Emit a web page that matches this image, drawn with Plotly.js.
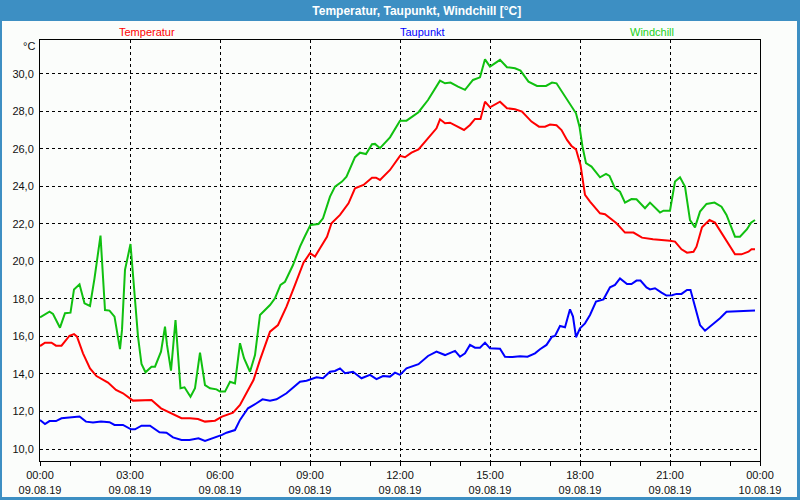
<!DOCTYPE html>
<html>
<head>
<meta charset="utf-8">
<script src="https://cdn.plot.ly/plotly-3.0.1.min.js"></script>
<style>html,body{margin:0;padding:0;background:#fbfdfb;}#chart{width:800px;height:500px;}</style>
</head>
<body>
<div id="chart"></div>
<script>
// ---- Data (hours since 09.08.19 00:00, values in °C) ----
const seriesNames = ['Temperatur', 'Taupunkt', 'Windchill'];

const tempHours = [0.00,0.16,0.38,0.54,0.71,0.99,1.13,1.24,1.43,1.66,1.88,2.27,2.54,2.77,3.10,3.38,3.71,4.04,4.38,4.71,5.00,5.27,5.50,5.83,6.06,6.44,6.67,6.89,7.11,7.33,7.67,7.94,8.22,8.50,8.78,9.00,9.17,9.33,9.56,9.72,10.00,10.28,10.50,10.78,11.06,11.20,11.33,11.67,12.00,12.17,12.39,12.61,12.94,13.22,13.33,13.50,13.67,13.89,14.13,14.33,14.50,14.69,14.83,15.00,15.33,15.56,15.83,16.06,16.39,16.64,16.83,17.00,17.22,17.39,17.56,17.72,17.87,18.02,18.17,18.33,18.67,18.83,19.22,19.50,19.78,20.06,20.44,21.00,21.17,21.39,21.56,21.78,21.89,22.06,22.31,22.50,22.78,23.00,23.17,23.39,23.61,23.72,23.83];
const tempValues = [15.49,15.67,15.67,15.51,15.51,16.04,16.13,15.99,15.10,14.30,13.89,13.54,13.15,12.97,12.58,12.61,12.61,12.17,11.90,11.64,11.64,11.60,11.46,11.51,11.73,11.94,12.35,12.97,13.68,14.75,16.26,16.61,17.59,18.75,19.94,20.44,20.26,20.70,21.32,22.04,22.48,23.10,23.90,24.08,24.47,24.47,24.35,24.88,25.63,25.56,25.80,25.98,26.57,27.10,27.58,27.37,27.40,27.23,27.01,27.28,27.60,27.60,28.52,28.22,28.52,28.17,28.12,27.99,27.46,27.19,27.19,27.30,27.26,27.01,26.48,26.16,25.98,25.15,23.55,23.19,22.57,22.52,22.04,21.54,21.54,21.27,21.18,21.11,21.06,20.65,20.47,20.52,20.79,21.82,22.21,22.07,21.36,20.79,20.38,20.38,20.52,20.65,20.65];

const dewHours = [0.00,0.16,0.32,0.54,0.71,0.99,1.32,1.54,1.77,2.04,2.32,2.49,2.77,3.04,3.16,3.38,3.66,3.99,4.21,4.43,4.71,4.99,5.28,5.50,5.78,6.06,6.22,6.50,6.67,6.94,7.22,7.42,7.67,7.89,8.22,8.67,8.89,9.22,9.44,9.67,9.83,10.00,10.17,10.44,10.72,11.00,11.22,11.44,11.67,11.83,12.00,12.22,12.61,12.94,13.22,13.50,13.83,14.00,14.17,14.33,14.50,14.67,14.83,15.00,15.33,15.50,15.75,16.00,16.25,16.50,16.67,16.89,17.06,17.17,17.33,17.50,17.67,17.76,17.86,18.00,18.17,18.33,18.53,18.78,19.00,19.17,19.33,19.56,19.72,19.89,20.02,20.22,20.33,20.50,20.72,20.89,21.06,21.22,21.39,21.56,21.69,21.83,22.00,22.17,22.33,22.67,22.89,23.83];
const dewValues = [11.55,11.33,11.49,11.49,11.64,11.67,11.73,11.46,11.41,11.46,11.43,11.28,11.28,11.05,11.05,11.24,11.24,10.89,10.87,10.62,10.48,10.48,10.57,10.43,10.57,10.75,10.87,11.01,11.55,12.17,12.44,12.65,12.58,12.65,12.97,13.59,13.64,13.82,13.77,14.12,14.16,14.30,14.04,14.12,13.77,13.95,13.73,13.89,13.86,14.07,13.95,14.30,14.52,14.96,15.19,15.01,15.23,14.92,15.10,15.55,15.40,15.40,15.67,15.37,15.35,14.92,14.90,14.95,14.92,15.10,15.32,15.55,15.99,16.03,16.56,16.49,17.45,17.06,15.96,16.44,16.70,17.15,17.86,17.98,18.62,18.75,19.10,18.80,18.80,18.98,18.98,18.62,18.51,18.57,18.34,18.18,18.20,18.27,18.27,18.48,18.48,17.59,16.61,16.31,16.52,16.97,17.32,17.38];

const chillHours = [0.00,0.32,0.43,0.66,0.84,1.01,1.13,1.32,1.49,1.66,1.82,2.02,2.16,2.32,2.49,2.66,2.73,2.84,3.02,3.27,3.38,3.51,3.71,3.84,4.04,4.16,4.24,4.36,4.51,4.69,4.82,5.02,5.17,5.33,5.50,5.67,5.89,6.00,6.17,6.33,6.50,6.67,6.80,7.00,7.17,7.33,7.67,7.83,8.02,8.17,8.44,8.67,8.83,9.02,9.28,9.44,9.67,9.83,10.06,10.22,10.50,10.67,10.87,11.06,11.17,11.33,11.67,12.00,12.22,12.61,12.94,13.17,13.33,13.50,13.69,13.94,14.17,14.44,14.67,14.83,15.00,15.33,15.56,15.83,16.02,16.28,16.56,16.87,17.06,17.22,17.44,17.67,17.87,17.98,18.09,18.20,18.39,18.67,18.86,18.98,19.17,19.33,19.50,19.72,19.89,20.17,20.33,20.67,20.78,21.00,21.17,21.33,21.50,21.67,21.83,22.00,22.22,22.48,22.72,22.89,23.17,23.33,23.56,23.70,23.83];
const chillValues = [17.02,17.32,17.20,16.47,17.24,17.27,18.51,18.78,17.77,17.63,19.10,21.38,17.41,17.38,17.06,15.33,16.35,19.55,20.93,15.99,14.53,14.09,14.39,14.39,15.19,16.52,15.55,14.18,16.88,13.24,13.29,12.79,13.24,15.14,13.41,13.24,13.18,13.06,13.06,13.59,13.50,15.64,14.84,14.12,15.01,17.15,17.68,18.04,18.75,18.92,19.81,20.79,21.36,21.95,22.00,22.30,23.46,23.99,24.26,24.52,25.56,25.80,25.73,26.25,26.27,26.04,26.62,27.51,27.51,27.96,28.61,29.18,29.64,29.50,29.54,29.32,29.15,29.68,29.82,30.78,30.39,30.75,30.36,30.30,30.18,29.59,29.36,29.36,29.54,29.50,28.97,28.35,27.90,27.19,26.12,25.24,25.06,24.49,24.67,24.56,23.90,23.72,23.14,23.33,23.32,22.84,23.14,22.61,22.71,22.71,24.26,24.49,23.99,22.21,21.82,22.66,23.07,23.14,22.92,22.48,21.32,21.32,21.72,22.07,22.21];

const tickHours = [0, 3, 6, 9, 12, 15, 18, 21, 24];
const tickLabels = ['00:00<br>09.08.19','03:00<br>09.08.19','06:00<br>09.08.19','09:00<br>09.08.19','12:00<br>09.08.19','15:00<br>09.08.19','18:00<br>09.08.19','21:00<br>09.08.19','00:00<br>10.08.19'];
const yTicks = [10, 12, 14, 16, 18, 20, 22, 24, 26, 28, 30];

// ---- helpers ----
const BASE = Date.UTC(2019, 7, 9, 0, 0, 0);
function toDate(h) {
  const d = new Date(BASE + Math.round(h * 60) * 60000);
  return d.toISOString().slice(0, 19).replace('T', ' ');
}
const px = { l: 40, r: 760, t: 40, b: 461 };
const fx = x => (x - px.l) / (px.r - px.l);
const fy = y => (px.b - y) / (px.b - px.t);

const colors = { temp: '#ff0000', dew: '#0000ff', chill: '#10c010' };

const traces = [
  { x: tempHours.map(toDate), y: tempValues, name: seriesNames[0], mode: 'lines', line: { color: colors.temp, width: 2 }, hoverinfo: 'skip' },
  { x: chillHours.map(toDate), y: chillValues, name: seriesNames[2], mode: 'lines', line: { color: colors.chill, width: 2 }, hoverinfo: 'skip' },
  { x: dewHours.map(toDate), y: dewValues, name: seriesNames[1], mode: 'lines', line: { color: colors.dew, width: 2 }, hoverinfo: 'skip' }
];

const blue = '#3d8fc3';
const fontFam = 'Liberation Sans, DejaVu Sans, sans-serif';

const layout = {
  width: 800, height: 500,
  margin: { l: 40, r: 40, t: 40, b: 39, pad: 0 },
  paper_bgcolor: '#fbfdfb', plot_bgcolor: '#fbfdfb',
  separators: ',.',
  font: { family: fontFam, size: 11, color: '#111' },
  showlegend: false,
  title: {
    text: '<b>Temperatur, Taupunkt, Windchill [°C]</b>',
    x: 0.521, xanchor: 'center', xref: 'container',
    y: 0.979, yanchor: 'middle', yref: 'container',
    font: { family: fontFam, size: 12, color: '#ffffff' }
  },
  xaxis: {
    type: 'date',
    range: [toDate(0), toDate(24)],
    tickmode: 'array', tickvals: tickHours.map(toDate), ticktext: tickLabels,
    ticks: 'outside', ticklen: 4, tickcolor: '#000', tickwidth: 1,
    showgrid: true, gridcolor: '#000', gridwidth: 1, griddash: '3px,3px',
    showline: true, linecolor: '#000', linewidth: 1, mirror: true,
    zeroline: false, fixedrange: true,
    minor: { dtick: 3600000, tick0: toDate(0), ticks: 'outside', ticklen: 4, tickcolor: '#000', tickwidth: 1, showgrid: false },
    tickfont: { family: fontFam, size: 11, color: '#111' }
  },
  yaxis: {
    range: [9.36, 31.81],
    tickmode: 'array', tickvals: yTicks, tickformat: '.1f',
    ticks: '', ticklabelstandoff: 3,
    showgrid: true, gridcolor: '#000', gridwidth: 1, griddash: '3px,3px',
    showline: true, linecolor: '#000', linewidth: 1, mirror: true,
    zeroline: false, fixedrange: true,
    tickfont: { family: fontFam, size: 11, color: '#111' }
  },
  shapes: [
    { type: 'rect', xref: 'paper', yref: 'paper', x0: fx(0), x1: fx(800), y0: fy(21), y1: fy(0), fillcolor: blue, line: { width: 0 }, layer: 'below' },
    { type: 'rect', xref: 'paper', yref: 'paper', x0: fx(0), x1: fx(2), y0: fy(500), y1: fy(0), fillcolor: blue, line: { width: 0 }, layer: 'below' },
    { type: 'rect', xref: 'paper', yref: 'paper', x0: fx(797), x1: fx(800), y0: fy(500), y1: fy(0), fillcolor: blue, line: { width: 0 }, layer: 'below' },
    { type: 'rect', xref: 'paper', yref: 'paper', x0: fx(0), x1: fx(800), y0: fy(500), y1: fy(497), fillcolor: blue, line: { width: 0 }, layer: 'below' }
  ],
  annotations: [
    { text: seriesNames[0], xref: 'paper', yref: 'paper', x: fx(147), y: fy(32), xanchor: 'center', yanchor: 'middle', showarrow: false, font: { family: fontFam, size: 11, color: '#ff0000' } },
    { text: seriesNames[1], xref: 'paper', yref: 'paper', x: fx(422), y: fy(32), xanchor: 'center', yanchor: 'middle', showarrow: false, font: { family: fontFam, size: 11, color: '#0000ff' } },
    { text: seriesNames[2], xref: 'paper', yref: 'paper', x: fx(652), y: fy(32), xanchor: 'center', yanchor: 'middle', showarrow: false, font: { family: fontFam, size: 11, color: '#1ad01a' } },
    { text: '°C', xref: 'paper', yref: 'paper', x: fx(37), y: fy(46), xanchor: 'right', yanchor: 'middle', showarrow: false, font: { family: fontFam, size: 11, color: '#111' } }
  ]
};

Plotly.newPlot('chart', traces, layout, { staticPlot: true, displayModeBar: false });
</script>
</body>
</html>
